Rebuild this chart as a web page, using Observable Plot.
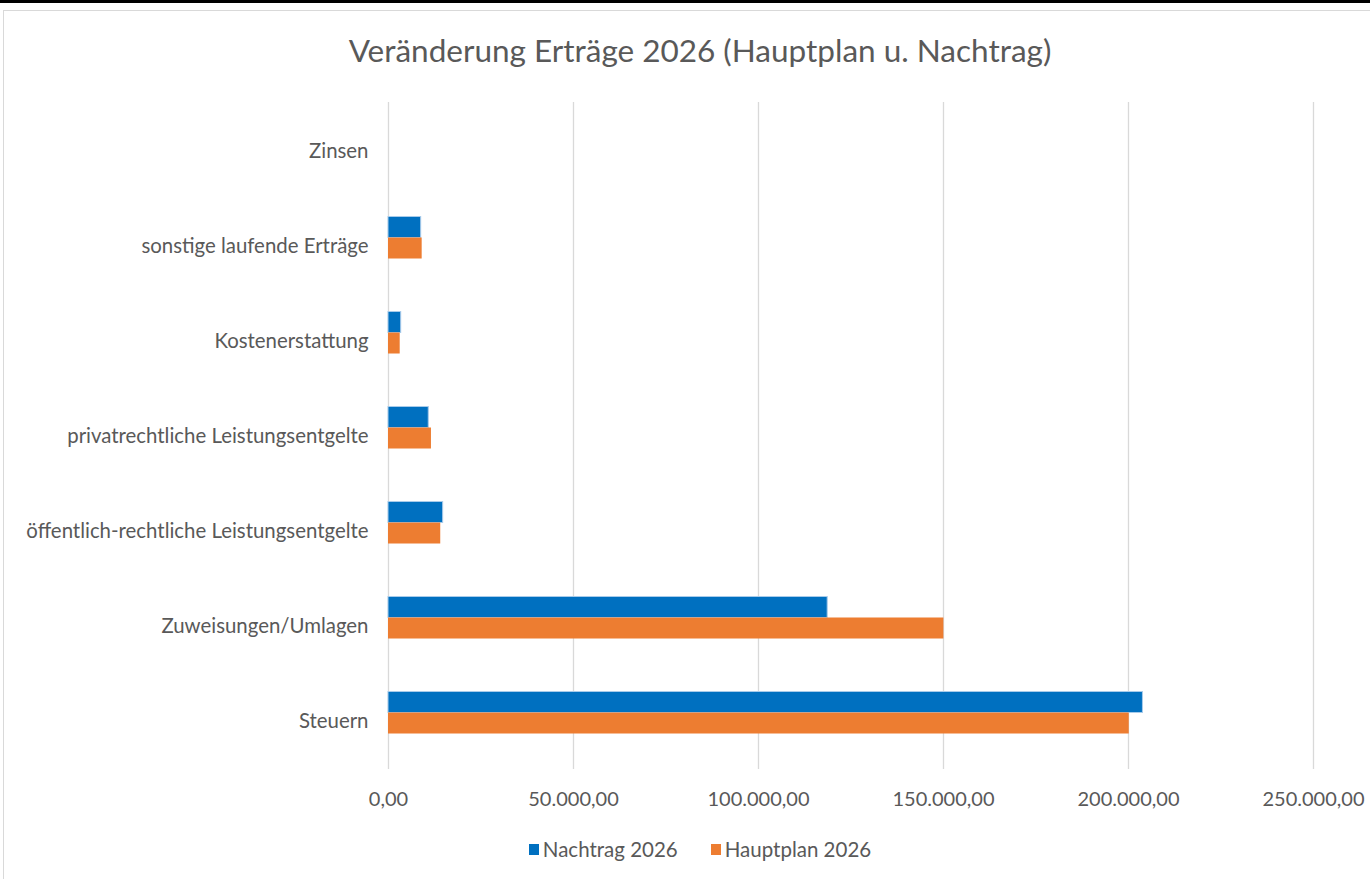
<!DOCTYPE html>
<html><head><meta charset="utf-8">
<script src="https://cdn.jsdelivr.net/npm/d3@7"></script>
<script src="https://cdn.jsdelivr.net/npm/@observablehq/plot@0.6"></script>
<style>
html,body{margin:0;padding:0;background:#fff;overflow:hidden;width:1370px;height:879px;position:relative}
#topbar{position:absolute;left:0;top:0;width:1370px;height:3px;background:#000}
#frame{position:absolute;left:3px;top:10px;width:1400px;height:900px;border-left:1.5px solid #d9d9d9;border-top:1.5px solid #d9d9d9;box-sizing:border-box}
#title{position:absolute;left:3px;width:1394px;top:34px;text-align:center;font-family:Lato,sans-serif;font-size:31.5px;line-height:32px;color:#595959;white-space:nowrap}
#chart{position:absolute;left:0;top:90px}
#legend{position:absolute;left:3px;width:1394px;top:838px;display:flex;justify-content:center;gap:33px;font-family:Lato,sans-serif;font-size:20.5px;line-height:22px;color:#595959}
#legend .item{display:flex;align-items:center;gap:4px}
#legend .sw{width:10px;height:11px;display:inline-block}
</style>
</head><body>
<div id="topbar"></div>
<div id="frame"></div>
<div id="title">Veränderung Erträge 2026 (Hauptplan u. Nachtrag)</div>
<div id="chart"></div>
<div id="legend"></div>
<script>
const categories = ["Zinsen","sonstige laufende Erträge","Kostenerstattung","privatrechtliche Leistungsentgelte","öffentlich-rechtliche Leistungsentgelte","Zuweisungen/Umlagen","Steuern"];
const nachtrag = [0, 8830, 3430, 10880, 14770, 118700, 203900];
const hauptplan = [0, 9100, 3160, 11610, 14120, 150100, 200200];
const seriesNames = ["Nachtrag 2026","Hauptplan 2026"];
const seriesColors = ["#0070C0","#ED7D31"];
const xTicks = [0, 50000, 100000, 150000, 200000, 250000];

const de = d3.formatLocale({decimal:",", thousands:".", grouping:[3], currency:["","€"]});
const fmt = de.format(",.2f");

const rowsN = categories.map((c,i)=>({category:c, value:nachtrag[i]}));
const rowsH = categories.map((c,i)=>({category:c, value:hauptplan[i]}));

const chart = Plot.plot({
  width: 1370,
  height: 730,
  marginTop: 12,
  marginBottom: 51,
  marginLeft: 388,
  marginRight: 57,
  style: {fontFamily: "Lato, sans-serif", fontSize: "20px", color: "#595959", background: "transparent"},
  x: {domain: [0, 250000]},
  y: {domain: categories, padding: 0},
  marks: [
    Plot.gridX(xTicks, {stroke: "#d9d9d9", strokeOpacity: 1, strokeWidth: 1.3}),
    Plot.barX(rowsN, {x: "value", y: "category", fill: seriesColors[0], stroke: "#a8cbea", strokeWidth: 1, insetTop: 18.5, insetBottom: 55.5}),
    Plot.barX(rowsH, {x: "value", y: "category", fill: seriesColors[1], insetTop: 39.5, insetBottom: 34.5}),
    Plot.axisX(xTicks, {tickSize: 0, tickPadding: 22, tickFormat: fmt, label: null, fill: "#595959"}),
    Plot.axisY({tickSize: 0, tickPadding: 20, label: null, fill: "#595959", fontSize: 20.4})
  ]
});
document.getElementById("chart").appendChild(chart);

const legend = document.getElementById("legend");
seriesNames.forEach((name,i)=>{
  const item = document.createElement("div");
  item.className = "item";
  const sw = document.createElement("span");
  sw.className = "sw";
  sw.style.background = seriesColors[i];
  const t = document.createElement("span");
  t.textContent = name;
  item.appendChild(sw); item.appendChild(t);
  legend.appendChild(item);
});
</script>
</body></html>
